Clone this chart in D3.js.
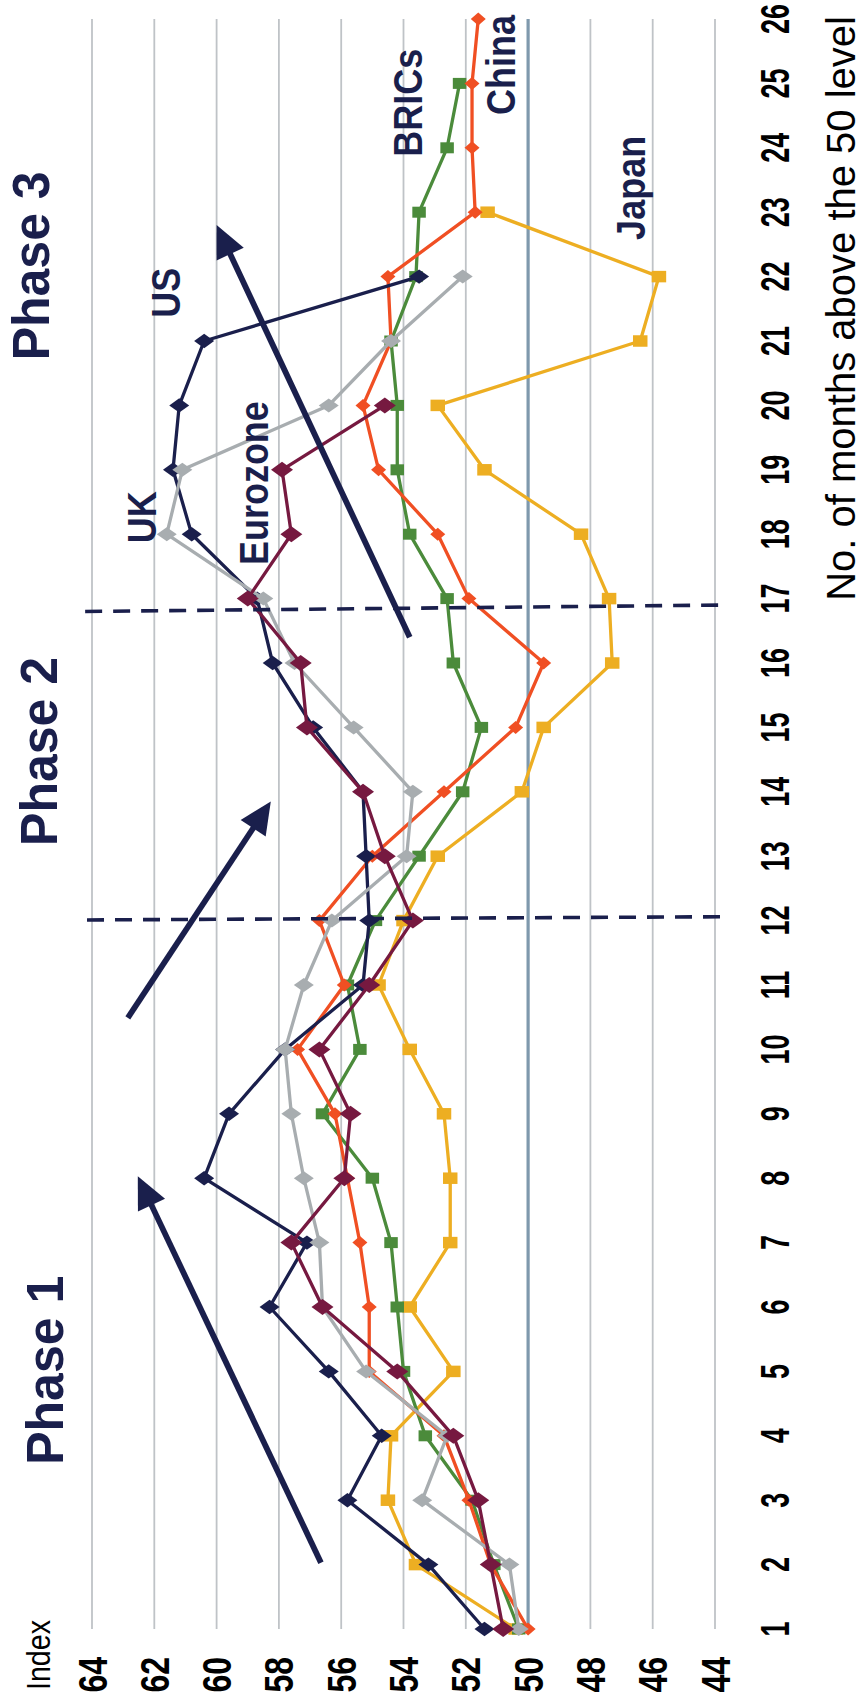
<!DOCTYPE html>
<html>
<head>
<meta charset="utf-8">
<script src="https://cdn.jsdelivr.net/npm/d3@7"></script>
<style>
  html, body { margin: 0; padding: 0; background: #fff; }
  svg { display: block; font-family: "Liberation Sans", Arial, Helvetica, sans-serif; }
</style>
</head>
<body>
<script>
// ---- data -------------------------------------------------------------
const monthTicks = [1, 2, 3, 4, 5, 6, 7, 8, 9, 10, 11, 12, 13, 14, 15, 16, 17, 18, 19, 20, 21, 22, 23, 24, 25, 26];
const indexTicks = [44, 46, 48, 50, 52, 54, 56, 58, 60, 62, 64];

const usIndex = [51.4, 53.2, 55.8, 54.7, 56.4, 58.3, 57.1, 60.4, 59.6, 57.8, 55.3, 55.1, 55.2, 55.3, 56.9, 58.2, 58.7, 60.8, 61.4, 61.2, 60.4, 53.5];
const ukIndex = [50.3, 50.6, 53.4, 52.6, 55.2, 56.6, 56.7, 57.2, 57.6, 57.8, 57.2, 56.3, 53.9, 53.7, 55.6, 57.5, 58.5, 61.6, 61.1, 56.4, 54.4, 52.1];
const eurozoneIndex = [50.8, 51.2, 51.6, 52.4, 54.2, 56.6, 57.6, 55.9, 55.7, 56.7, 55.1, 53.7, 54.6, 55.3, 57.1, 57.3, 59.0, 57.6, 57.9, 54.6];
const chinaIndex = [50.0, 51.2, 51.9, 52.7, 55.1, 55.1, 55.4, 55.8, 56.2, 57.4, 55.9, 56.7, 55.0, 52.7, 50.4, 49.5, 51.9, 52.9, 54.8, 55.3, 54.4, 54.5, 51.7, 51.8, 51.8, 51.6];
const bricsIndex = [50.3, 51.1, 51.8, 53.3, 54.0, 54.2, 54.4, 55.0, 56.6, 55.4, 55.8, 54.9, 53.5, 52.1, 51.5, 52.4, 52.6, 53.8, 54.2, 54.2, 54.4, 53.6, 53.5, 52.6, 52.2];
const japanIndex = [50.4, 53.6, 54.5, 54.4, 52.4, 53.8, 52.5, 52.5, 52.7, 53.8, 54.8, 54.0, 52.9, 50.2, 49.5, 47.3, 47.4, 48.3, 51.4, 52.9, 46.4, 45.8, 51.3];

// phase boundaries and trend arrows, as [month, index] pairs
const phaseBoundaries = [
  [[12.01, 64.16], [12.06, 43.71]],
  [[16.80, 64.22], [16.90, 43.78]]
];
const trendArrows = [
  [[2.03, 56.65], [8.03, 62.53]],
  [[10.49, 62.85], [13.85, 58.26]],
  [[16.40, 53.80], [22.80, 60.00]]
];

// ---- layout -----------------------------------------------------------
const W = 865, H = 1704;
const navy = "#1a1f4c";

const svg = d3.select("body").append("svg").attr("width", W).attr("height", H);
// the chart is laid out landscape (H wide, W tall) and turned a quarter turn anticlockwise
const g = svg.append("g").attr("transform", `translate(0,${H}) rotate(-90)`);

const x = d3.scaleLinear().domain([1, 26]).range([75, 1685]);
const y = d3.scaleLinear().domain([44, 64]).range([715, 92]);

// horizontal gridlines
g.append("g").selectAll("line")
  .data(indexTicks.filter(v => v !== 50))
  .join("line")
  .attr("x1", x(1)).attr("x2", x(26))
  .attr("y1", d => y(d)).attr("y2", d => y(d))
  .attr("stroke", "#bfc3c7").attr("stroke-width", 1.8);

// the 50 line (category axis crosses here)
g.append("line")
  .attr("x1", x(1)).attr("x2", x(26))
  .attr("y1", y(50)).attr("y2", y(50))
  .attr("stroke", "#7f99ad").attr("stroke-width", 3.2);

// value axis labels
g.append("g").selectAll("text")
  .data(indexTicks)
  .join("text")
  .attr("transform", d => `translate(47,${y(d) + 14.5}) scale(1,1.27)`)
  .attr("text-anchor", "end")
  .attr("font-size", 32).attr("font-weight", "bold").attr("fill", "#000")
  .text(d => d);

g.append("text")
  .attr("transform", "translate(14,50) scale(1,1.17)")
  .attr("font-size", 28.6).attr("fill", "#000")
  .text("Index");

// month labels
g.append("g").selectAll("text")
  .data(monthTicks)
  .join("text")
  .attr("transform", d => `translate(${x(d)},789) scale(1,1.5)`)
  .attr("text-anchor", "middle")
  .attr("font-size", 27).attr("font-weight", "bold").attr("fill", "#000")
  .text(d => d);

g.append("text")
  .attr("x", 1688).attr("y", 855)
  .attr("text-anchor", "end")
  .attr("font-size", 40).attr("fill", "#000")
  .text("No. of months above the 50 level");

// ---- series -----------------------------------------------------------
const diamond = (hw, hh) => `M0,${-hh}L${hw},0L0,${hh}L${-hw},0Z`;
const square = (w, h) => `M${-w / 2},${-h / 2}h${w}v${h}h${-w}Z`;

const series = [
  { values: japanIndex,    color: "#edae22", marker: square(11.5, 14.5) },
  { values: bricsIndex,    color: "#4b8b3b", marker: square(11, 13.5) },
  { values: chinaIndex,    color: "#f04f23", marker: diamond(6.5, 7.5) },
  { values: usIndex,       color: navy,      marker: diamond(7.2, 10) },
  { values: ukIndex,       color: "#a8adb0", marker: diamond(7, 10) },
  { values: eurozoneIndex, color: "#761940", marker: diamond(8, 11) }
];

const line = d3.line().x(d => x(d.m)).y(d => y(d.v));

series.forEach(s => {
  const pts = s.values.map((v, i) => ({ m: monthTicks[i], v }));
  const sg = g.append("g");
  sg.append("path").datum(pts)
    .attr("d", line)
    .attr("fill", "none").attr("stroke", s.color)
    .attr("stroke-width", 3.3).attr("stroke-linejoin", "round");
  sg.selectAll("path.mk").data(pts).join("path")
    .attr("class", "mk")
    .attr("transform", d => `translate(${x(d.m)},${y(d.v)})`)
    .attr("d", s.marker)
    .attr("fill", s.color);
});

// ---- annotations ------------------------------------------------------
g.append("g").selectAll("line")
  .data(phaseBoundaries)
  .join("line")
  .attr("x1", d => x(d[0][0])).attr("y1", d => y(d[0][1]))
  .attr("x2", d => x(d[1][0])).attr("y2", d => y(d[1][1]))
  .attr("stroke", navy).attr("stroke-width", 3.6)
  .attr("stroke-dasharray", "17,11");

const arrows = g.append("g");
trendArrows.forEach(([from, to]) => {
  const x0 = x(from[0]), y0 = y(from[1]), x1 = x(to[0]), y1 = y(to[1]);
  const len = Math.hypot(x1 - x0, y1 - y0);
  const ux = (x1 - x0) / len, uy = (y1 - y0) / len;
  const headLen = 32, headHalf = 15;
  const bx = x1 - ux * headLen, by = y1 - uy * headLen;
  arrows.append("line")
    .attr("x1", x0).attr("y1", y0)
    .attr("x2", bx + ux * 2).attr("y2", by + uy * 2)
    .attr("stroke", navy).attr("stroke-width", 5.8);
  arrows.append("path")
    .attr("d", `M${x1},${y1}L${bx - uy * headHalf},${by + ux * headHalf}L${bx + uy * headHalf},${by - ux * headHalf}Z`)
    .attr("fill", navy);
});

// phase titles and series names, placed in chart units
const phaseLabels = [
  { text: "Phase 1", m: 3.55,  v: 64.94 },
  { text: "Phase 2", m: 13.16, v: 65.13 },
  { text: "Phase 3", m: 20.70, v: 65.37 }
];
const seriesLabels = [
  { text: "US",       m: 21.36, v: 61.18 },
  { text: "UK",       m: 17.86, v: 61.95 },
  { text: "Eurozone", m: 17.52, v: 58.35 },
  { text: "BRICs",    m: 23.86, v: 53.42 },
  { text: "China",    m: 24.51, v: 50.42 },
  { text: "Japan",    m: 22.57, v: 46.25 }
];

g.append("g").selectAll("text")
  .data(phaseLabels)
  .join("text")
  .attr("transform", d => `translate(${x(d.m)},${y(d.v)}) scale(1,1.05)`)
  .attr("font-size", 50).attr("font-weight", "bold").attr("fill", navy)
  .text(d => d.text);

g.append("g").selectAll("text")
  .data(seriesLabels)
  .join("text")
  .attr("transform", d => `translate(${x(d.m)},${y(d.v)}) scale(1,1.12)`)
  .attr("font-size", 36).attr("font-weight", "bold").attr("fill", navy)
  .text(d => d.text);
</script>
</body>
</html>
